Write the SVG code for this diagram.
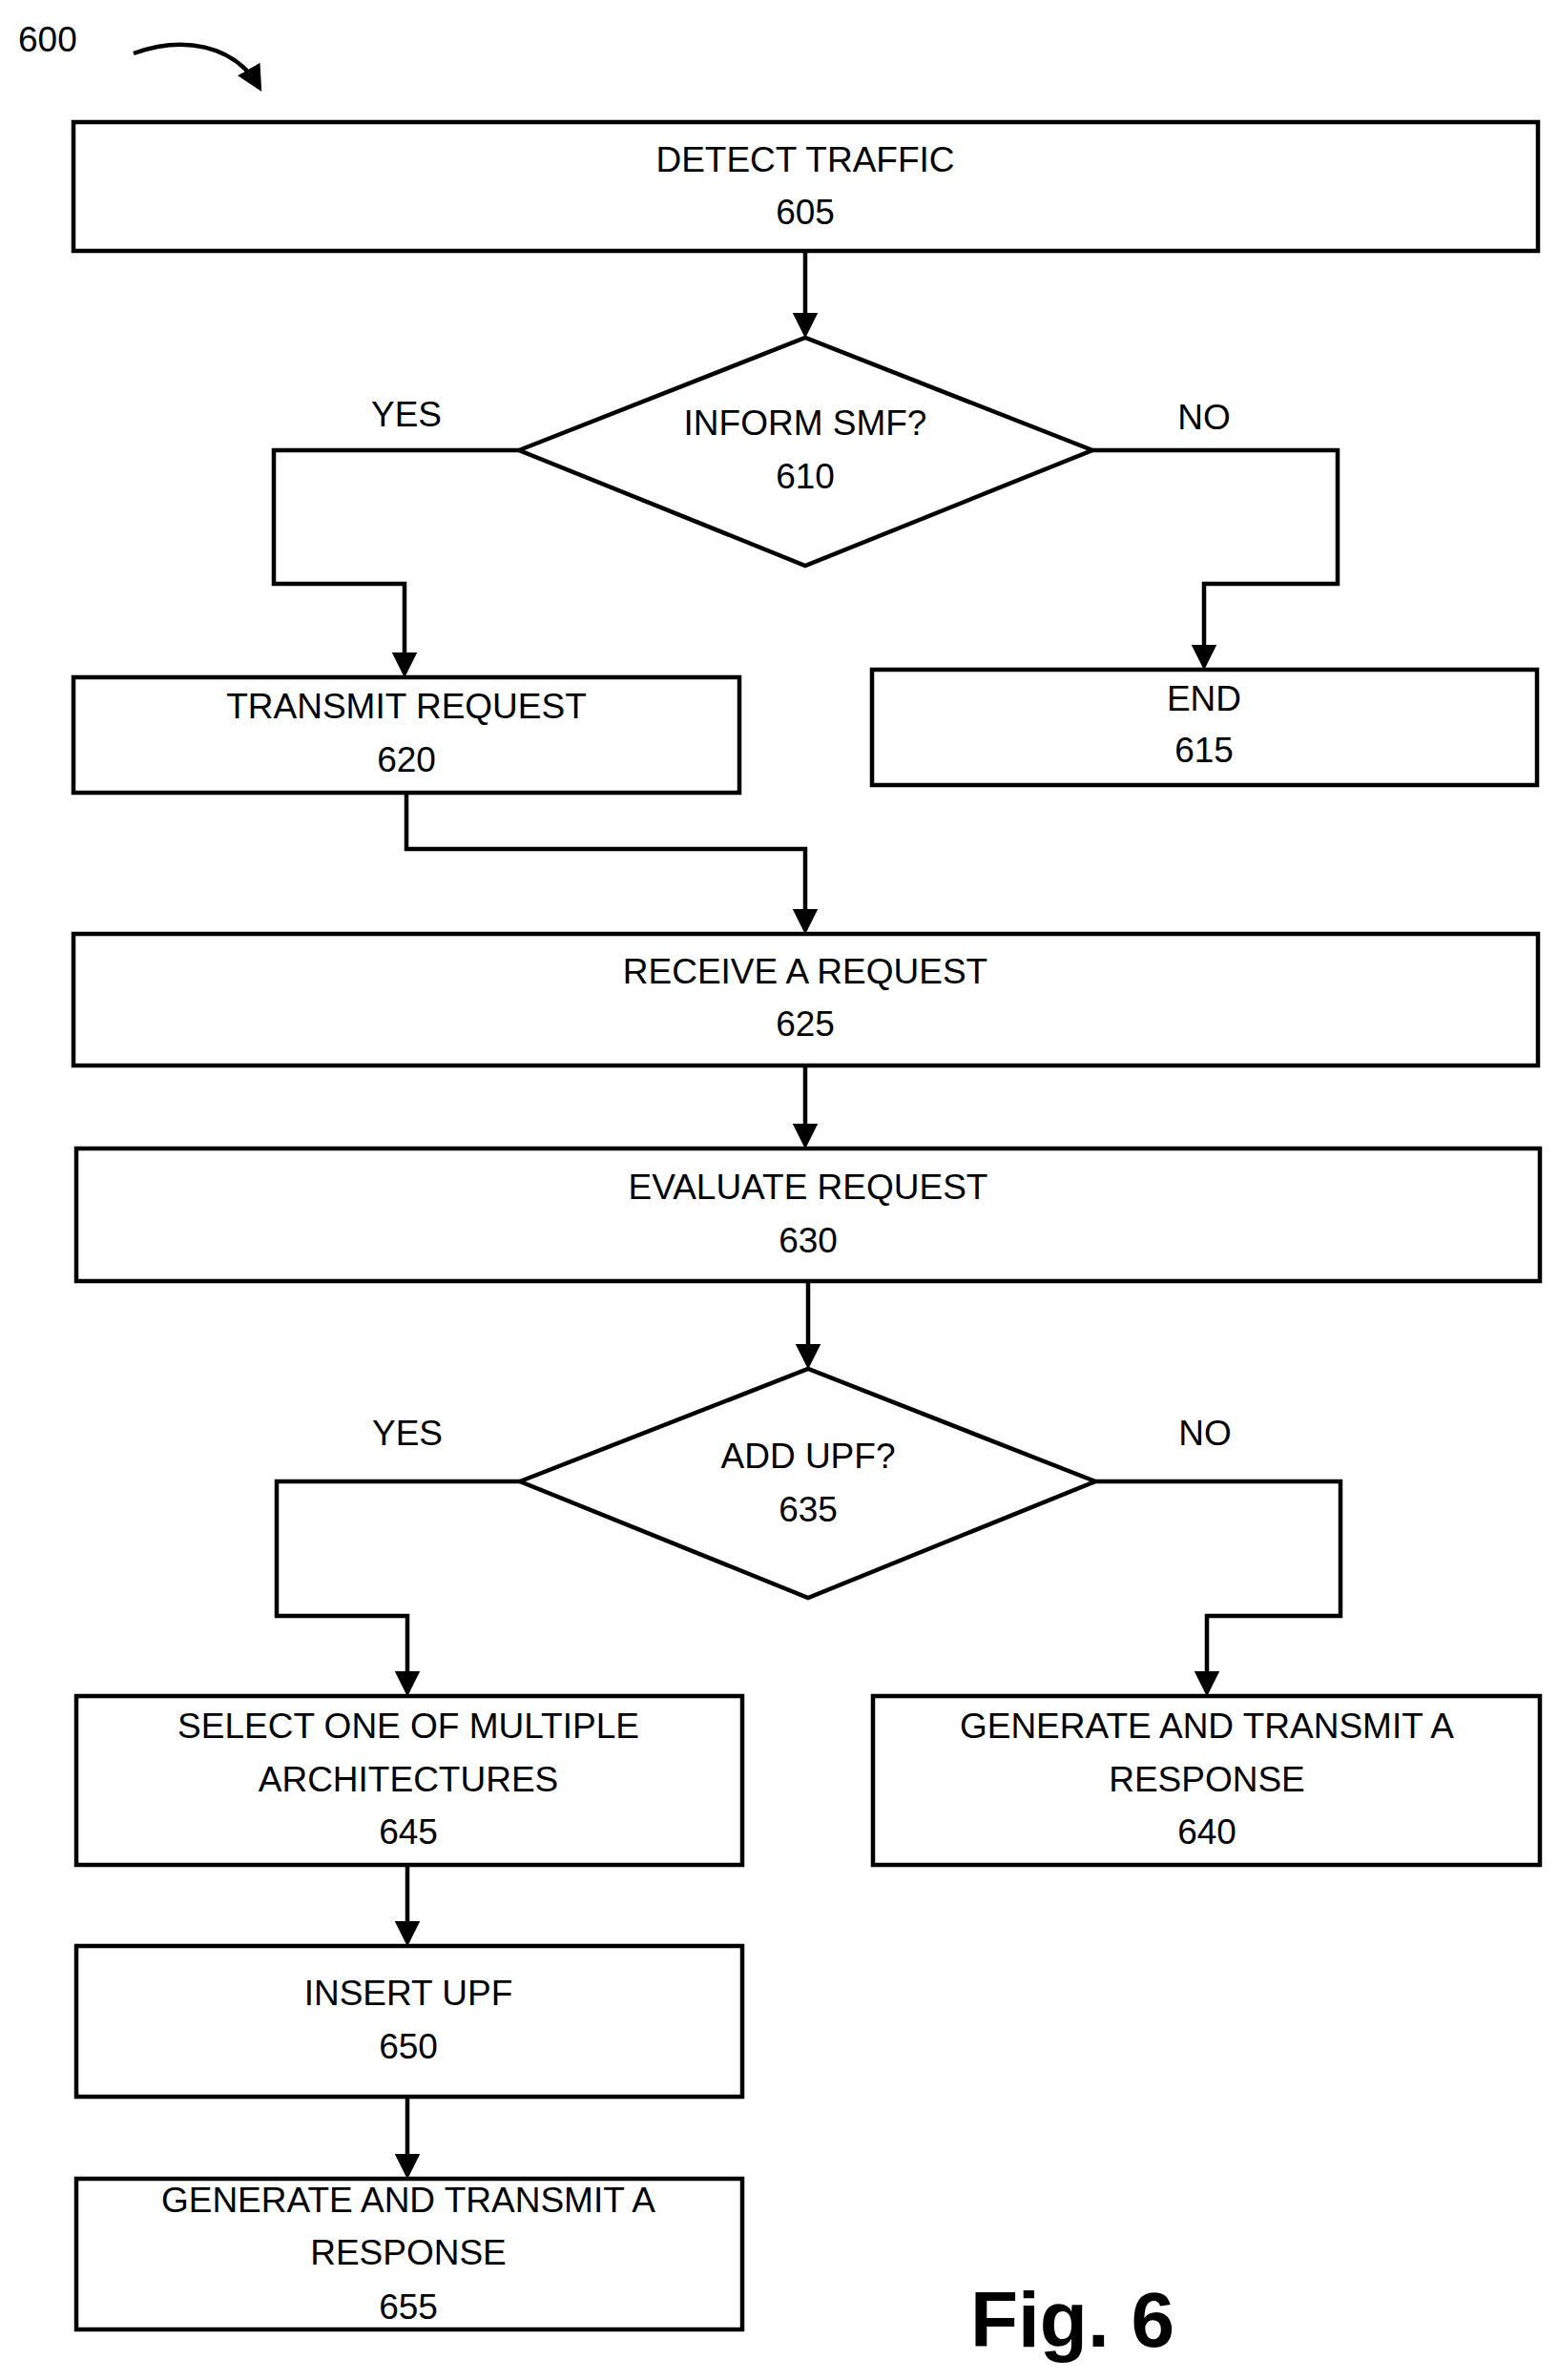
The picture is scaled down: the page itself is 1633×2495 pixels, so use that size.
<svg xmlns="http://www.w3.org/2000/svg" width="1633" height="2495" viewBox="0 0 1633 2495">
<style>
.b{fill:#fff;stroke:#000;stroke-width:4.5}
.t{font-family:"Liberation Sans",Arial,sans-serif;font-size:37px;text-anchor:middle;fill:#000}
.c{fill:none;stroke:#000;stroke-width:4.5;marker-end:url(#a)}
</style>
<defs><marker id="a" markerWidth="6" markerHeight="6" refX="5" refY="3" orient="auto" markerUnits="strokeWidth"><path d="M0,0L6,3L0,6z" fill="#000"/></marker></defs>
<rect width="1633" height="2495" fill="#fff"/>
<text x="19" y="54" class="t" style="text-anchor:start">600</text>
<path d="M140,56 C190,38 245,45 272,92" fill="none" stroke="#000" stroke-width="4.5" marker-end="url(#a)"/>
<g id="connectors">
<path class="c" d="M844,263V350"/>
<path class="c" d="M544,472H287V612H424V706"/>
<path class="c" d="M1145,472H1402V612H1262V698"/>
<path class="c" d="M426,831V890H844V975"/>
<path class="c" d="M844,1117V1200"/>
<path class="c" d="M847,1343V1431"/>
<path class="c" d="M545,1553H290V1694H427V1774"/>
<path class="c" d="M1148,1553H1405V1694H1265V1774"/>
<path class="c" d="M427,1955V2036"/>
<path class="c" d="M427,2198V2280"/>
<text x="426" y="447" class="t">YES</text>
<text x="1262" y="450" class="t">NO</text>
<text x="427" y="1515" class="t">YES</text>
<text x="1263" y="1515" class="t">NO</text>
</g>
<g id="n605"><rect class="b" x="77" y="128" width="1535" height="135"/><text x="844" y="180" class="t">DETECT TRAFFIC</text><text x="844" y="235" class="t">605</text></g>
<g id="n610"><path class="b" d="M544,472L844,354L1145,472L844,593Z"/><text x="844" y="456" class="t">INFORM SMF?</text><text x="844" y="512" class="t">610</text></g>
<g id="n620"><rect class="b" x="77" y="710" width="698" height="121"/><text x="426" y="753" class="t">TRANSMIT REQUEST</text><text x="426" y="809" class="t">620</text></g>
<g id="n615"><rect class="b" x="914" y="702" width="697" height="121"/><text x="1262" y="745" class="t">END</text><text x="1262" y="799" class="t">615</text></g>
<g id="n625"><rect class="b" x="77" y="979" width="1535" height="138"/><text x="844" y="1031" class="t">RECEIVE A REQUEST</text><text x="844" y="1086" class="t">625</text></g>
<g id="n630"><rect class="b" x="80" y="1204" width="1534" height="139"/><text x="847" y="1257" class="t">EVALUATE REQUEST</text><text x="847" y="1313" class="t">630</text></g>
<g id="n635"><path class="b" d="M545,1553L847,1435L1148,1553L847,1675Z"/><text x="847" y="1539" class="t">ADD UPF?</text><text x="847" y="1595" class="t">635</text></g>
<g id="n645"><rect class="b" x="80" y="1778" width="698" height="177"/><text x="428" y="1822" class="t">SELECT ONE OF MULTIPLE</text><text x="428" y="1878" class="t">ARCHITECTURES</text><text x="428" y="1933" class="t">645</text></g>
<g id="n640"><rect class="b" x="915" y="1778" width="699" height="177"/><text x="1265" y="1822" class="t">GENERATE AND TRANSMIT A</text><text x="1265" y="1878" class="t">RESPONSE</text><text x="1265" y="1933" class="t">640</text></g>
<g id="n650"><rect class="b" x="80" y="2040" width="698" height="158"/><text x="428" y="2102" class="t">INSERT UPF</text><text x="428" y="2158" class="t">650</text></g>
<g id="n655"><rect class="b" x="80" y="2284" width="698" height="158"/><text x="428" y="2319" class="t">GENERATE AND TRANSMIT A</text><text x="428" y="2374" class="t">RESPONSE</text><text x="428" y="2431" class="t">655</text></g>
<text x="1124" y="2460" style="font-family:'Liberation Sans',Arial,sans-serif;font-size:82px;font-weight:bold;text-anchor:middle">Fig. 6</text>
</svg>
